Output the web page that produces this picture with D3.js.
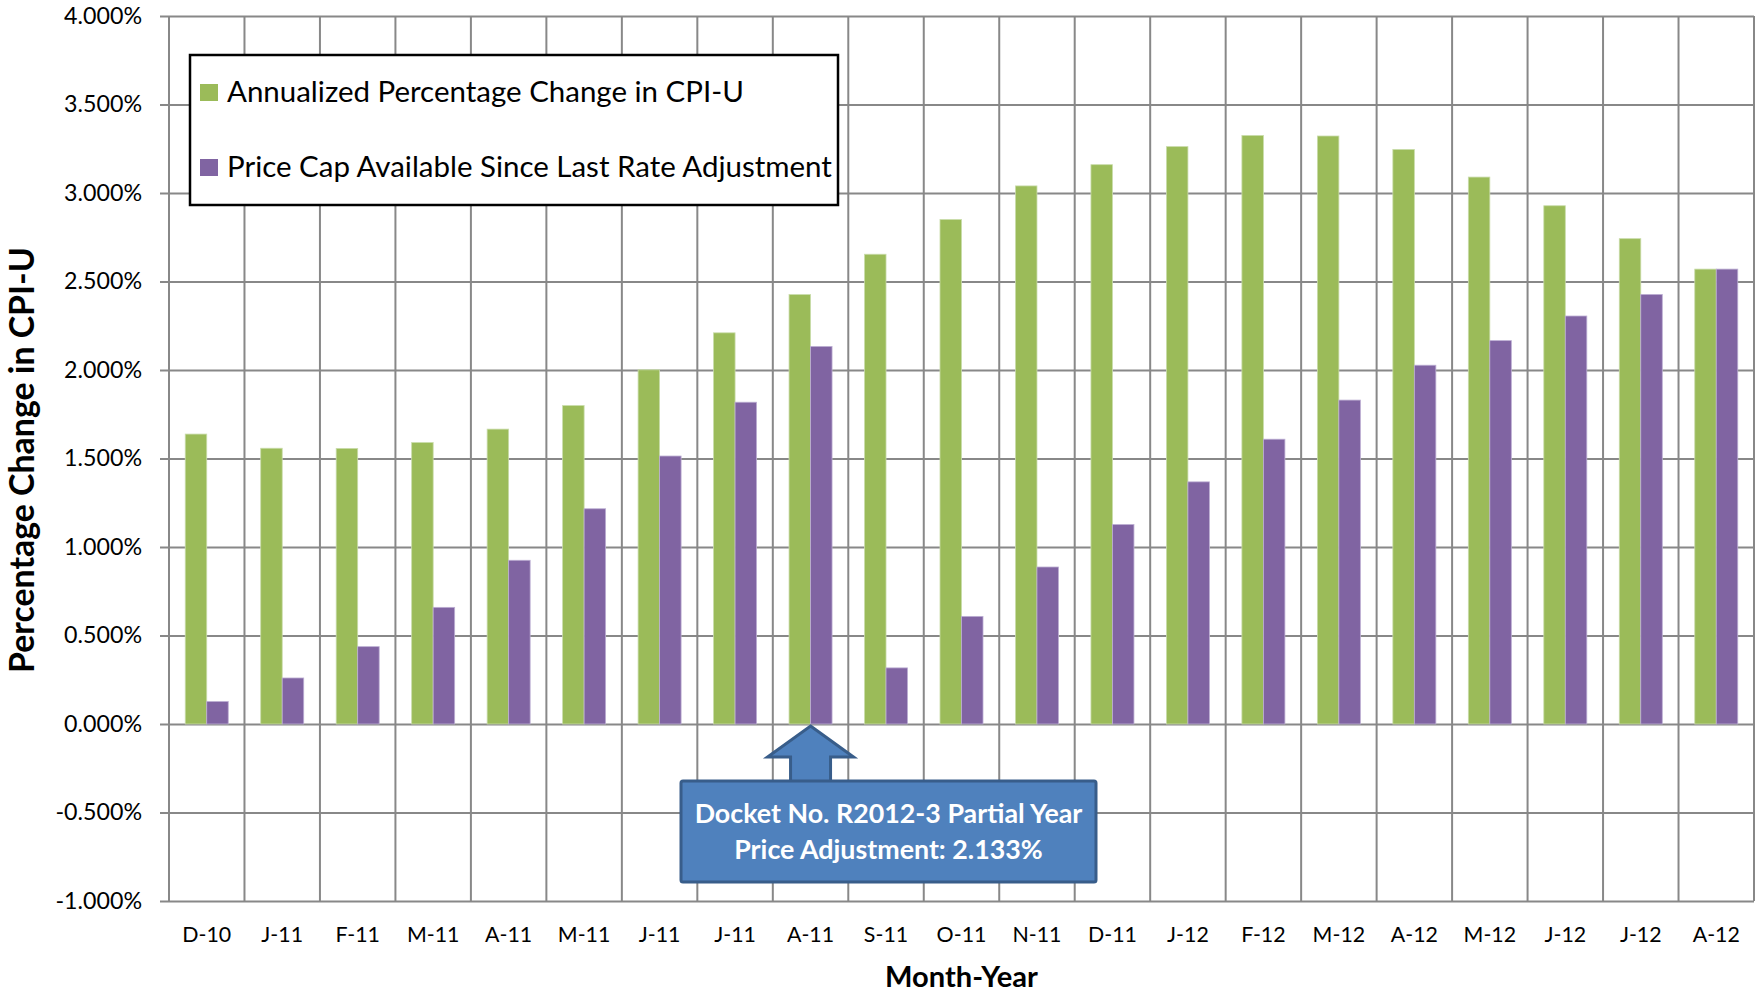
<!DOCTYPE html>
<html>
<head>
<meta charset="utf-8">
<script src="https://cdn.jsdelivr.net/npm/d3@7/dist/d3.min.js"></script>
<style>
	body { margin: 0; background: #fff; }
	text { font-family: Lato, "Liberation Sans", sans-serif; }
</style>
</head>
<body>
<div id="vis_container"></div>
<script>

var months = ["D-10","J-11","F-11","M-11","A-11","M-11","J-11","J-11","A-11","S-11","O-11","N-11",
	"D-11","J-12","F-12","M-12","A-12","M-12","J-12","J-12","A-12"];

var cpiChange = [1.638, 1.558, 1.557, 1.590, 1.666, 1.799, 2.001, 2.210, 2.426, 2.654, 2.850, 3.040,
	3.160, 3.262, 3.325, 3.322, 3.246, 3.090, 2.928, 2.742, 2.570];

var priceCap = [0.127, 0.260, 0.437, 0.659, 0.925, 1.216, 1.514, 1.818, 2.133, 0.317, 0.608, 0.887,
	1.127, 1.368, 1.609, 1.830, 2.027, 2.166, 2.305, 2.427, 2.570];

var seriesNames = ["Annualized Percentage Change in CPI-U", "Price Cap Available Since Last Rate Adjustment"];
var seriesColors = ["#9BBB59", "#8064A2"];

var yTicks = [-1, -0.5, 0, 0.5, 1, 1.5, 2, 2.5, 3, 3.5, 4];

var noteLines = ["Docket No. R2012-3 Partial Year", "Price Adjustment: 2.133%"];
var noteMonth = 8;

var chart = {};

chart.width = 1758;
chart.height = 993;
chart.margin = {"top": 16, "left": 169, "right": 4, "bottom": 92};
chart.w = chart.width - chart.margin.left - chart.margin.right;
chart.h = chart.height - chart.margin.top - chart.margin.bottom;

// shrink or grow a text selection so a sample reaches the width
function fitFont(sel, sample, target) {
	var fs = parseFloat(sample.style("font-size"));
	var len = sample.node().getComputedTextLength();
	sel.style("font-size", (fs * target / len) + "px");
}

chart.svg = d3.select("#vis_container").append("svg")
	.attr("width", chart.width)
	.attr("height", chart.height);

chart.g = chart.svg.append("g")
	.attr("transform", "translate(" + chart.margin.left + "," + chart.margin.top + ")");

chart.x = d3.scaleBand()
	.domain(d3.range(months.length))
	.range([0, chart.w])
	.padding(0);

chart.xInner = d3.scaleBand()
	.domain([0, 1])
	.range([0, chart.x.bandwidth()])
	.paddingInner(0)
	.paddingOuter(0.755);

chart.y = d3.scaleLinear()
	.domain([-1, 4])
	.range([chart.h, 0]);

// horizontal grid + tick marks
chart.yAxis = chart.g.append("g")
	.attr("class", "yaxis")
	.attr("transform", "translate(-9,0)")
	.call(d3.axisLeft(chart.y)
		.tickValues(yTicks)
		.tickSize(-(chart.w + 9))
		.tickPadding(18)
		.tickFormat(function(d) { return d.toFixed(3) + "%"; }));

chart.yAxis.select(".domain").remove();
chart.yAxis.selectAll("line")
	.attr("stroke", "#888")
	.attr("stroke-width", 2);
chart.yAxis.selectAll("text")
	.attr("fill", "#000")
	.style("font-size", "22px");
fitFont(chart.yAxis.selectAll("text"), chart.yAxis.select(".tick:last-of-type text"), 78);

// vertical grid at category edges
chart.g.append("g")
	.selectAll("line")
	.data(d3.range(months.length + 1))
	.enter()
	.append("line")
		.attr("x1", function(d) { return d < months.length ? chart.x(d) : chart.w; })
		.attr("x2", function(d) { return d < months.length ? chart.x(d) : chart.w; })
		.attr("y1", 0)
		.attr("y2", chart.h)
		.attr("stroke", "#888")
		.attr("stroke-width", 2);

// bars
chart.series = [cpiChange, priceCap];
chart.series.forEach(function(values, s) {
	chart.g.append("g")
		.selectAll("rect")
		.data(values)
		.enter()
		.append("rect")
			.attr("x", function(d, i) { return chart.x(i) + chart.xInner(s); })
			.attr("width", chart.xInner.bandwidth())
			.attr("y", function(d) { return chart.y(d); })
			.attr("height", function(d) { return chart.y(0) - chart.y(d); })
			.attr("fill", seriesColors[s])
			.attr("stroke", s == 0 ? "#c9dcaa" : "#bcaed3")
			.attr("stroke-width", 0.8);
});

// x labels
chart.xAxis = chart.g.append("g")
	.attr("transform", "translate(0," + chart.h + ")")
	.call(d3.axisBottom(chart.x)
		.tickSize(0)
		.tickPadding(26)
		.tickFormat(function(d) { return months[d]; }));

chart.xAxis.select(".domain").remove();
chart.xAxis.selectAll("text")
	.attr("fill", "#000")
	.style("font-size", "22px");
fitFont(chart.xAxis.selectAll("text"), chart.xAxis.select(".tick text"), 49);

// axis titles
chart.yTitle = chart.svg.append("text")
	.attr("transform", "translate(34,460) rotate(-90)")
	.attr("text-anchor", "middle")
	.style("font-weight", "bold")
	.style("font-size", "28px")
	.text("Percentage Change in CPI-U");
fitFont(chart.yTitle, chart.yTitle, 426);

chart.xTitle = chart.svg.append("text")
	.attr("x", chart.margin.left + chart.w / 2)
	.attr("y", 987)
	.attr("text-anchor", "middle")
	.style("font-weight", "bold")
	.style("font-size", "26px")
	.text("Month-Year");
fitFont(chart.xTitle, chart.xTitle, 153);

// legend
chart.legend = chart.svg.append("g")
	.attr("transform", "translate(190,55)");

chart.legend.append("rect")
	.attr("width", 648)
	.attr("height", 150)
	.attr("fill", "#fff")
	.attr("stroke", "#000")
	.attr("stroke-width", 2.5);

chart.legendItems = chart.legend.selectAll(".item")
	.data(seriesNames)
	.enter()
	.append("g")
		.attr("class", "item")
		.attr("transform", function(d, i) { return "translate(10," + (29 + i * 75) + ")"; });

chart.legendItems.append("rect")
	.attr("width", 18)
	.attr("height", 17)
	.attr("fill", function(d, i) { return seriesColors[i]; });

chart.legendItems.append("text")
	.attr("x", 27)
	.attr("y", 17.5)
	.style("font-size", "26px")
	.text(function(d) { return d; });
fitFont(chart.legendItems.selectAll("text"), chart.legendItems.filter(function(d, i) { return i == 1; }).select("text"), 605);

// annotation arrow and box
chart.noteX = chart.x(noteMonth) + chart.x.bandwidth() / 2;
chart.noteTop = chart.y(0) + 2;

chart.g.append("path")
	.attr("d", d3.line()([
		[chart.noteX, chart.noteTop],
		[chart.noteX + 43, chart.noteTop + 31],
		[chart.noteX + 20, chart.noteTop + 31],
		[chart.noteX + 20, chart.noteTop + 60],
		[chart.noteX - 20, chart.noteTop + 60],
		[chart.noteX - 20, chart.noteTop + 31],
		[chart.noteX - 43, chart.noteTop + 31]
	]) + "Z")
	.attr("fill", "#4F81BD")
	.attr("stroke", "#385D8A")
	.attr("stroke-width", 3);

chart.note = chart.svg.append("g")
	.attr("transform", "translate(681,781)");

chart.note.append("rect")
	.attr("width", 415)
	.attr("height", 101)
	.attr("rx", 2)
	.attr("fill", "#4F81BD")
	.attr("stroke", "#385D8A")
	.attr("stroke-width", 3);

chart.noteText = chart.note.selectAll("text")
	.data(noteLines)
	.enter()
	.append("text")
		.attr("x", 207.5)
		.attr("y", function(d, i) { return 42 + i * 36; })
		.attr("text-anchor", "middle")
		.attr("fill", "#fff")
		.style("font-weight", "bold")
		.style("font-size", "26px")
		.text(function(d) { return d; });
fitFont(chart.noteText, chart.note.select("text"), 388);

</script>
</body>
</html>
